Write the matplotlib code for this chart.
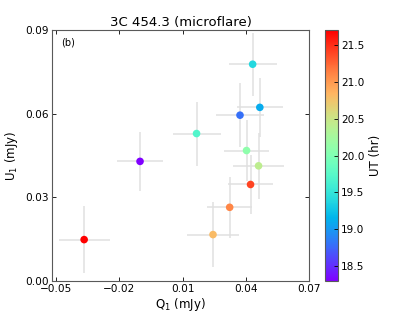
import numpy as np
import matplotlib
matplotlib.use("Agg")
from matplotlib import pyplot as plt

# Q1, U1 (mJy), errors and UT (hr)
q1 = [-0.0367, -0.0102, 0.0166, 0.0372, 0.0432, 0.0466, 0.0403, 0.0460, 0.0422, 0.0323, 0.0244]
u1 = [0.0148, 0.0429, 0.0529, 0.0595, 0.0778, 0.0623, 0.0468, 0.0413, 0.0346, 0.0264, 0.0166]
q1_err = [0.0121, 0.0107, 0.0114, 0.0114, 0.0114, 0.0109, 0.0107, 0.0120, 0.0107, 0.0107, 0.0121]
u1_err = [0.0120, 0.0107, 0.0115, 0.0115, 0.0113, 0.0107, 0.0108, 0.0118, 0.0106, 0.0110, 0.0118]
ut = [21.7, 18.3, 19.7, 18.8, 19.4, 19.1, 20.1, 20.4, 21.4, 21.1, 20.8]

xticks = [-0.05, -0.02, 0.01, 0.04, 0.07]
yticks = [0.00, 0.03, 0.06, 0.09]
cticks = [18.5, 19.0, 19.5, 20.0, 20.5, 21.0, 21.5]

plt.rcParams['font.family'] = 'DejaVu Sans'
plt.rcParams['xtick.direction'] = 'in'
plt.rcParams['ytick.direction'] = 'in'

fig = plt.figure(figsize=(4.15, 3.12), dpi=100)
ax = fig.add_axes([0.125, 0.1, 0.62, 0.803])
cax = fig.add_axes([0.783, 0.1, 0.032, 0.803])

ax.errorbar(q1, u1, xerr=q1_err, yerr=u1_err, fmt='none', ecolor='0.88', elinewidth=1.1, zorder=1)
sc = ax.scatter(q1, u1, c=ut, cmap='rainbow', vmin=18.3, vmax=21.7, s=30, edgecolors='none', zorder=2)

fmt = lambda t: ('%.2f' % t).replace('-', '\u2212')
ax.set_xlim(-0.052, 0.07)
ax.set_ylim(0.0, 0.09)
ax.set_xticks(xticks)
ax.set_yticks(yticks)
ax.set_xticklabels([fmt(t) for t in xticks], fontsize=7.6)
ax.set_yticklabels([fmt(t) for t in yticks], fontsize=7.6)
ax.tick_params(top=True, right=True, length=3, width=0.6, pad=2)
for s in ax.spines.values():
    s.set_color('0.35')
ax.set_xlabel('Q$_1$ (mJy)', fontsize=8.5, labelpad=2)
ax.set_ylabel('U$_1$ (mJy)', fontsize=8.5, labelpad=4)
ax.set_title('3C 454.3 (microflare)', fontsize=9.5, pad=3)
ax.text(0.035, 0.94, '(b)', transform=ax.transAxes, fontsize=7)

cb = fig.colorbar(sc, cax=cax, ticks=cticks)
cb.ax.tick_params(labelsize=7.6, length=3, width=0.6, direction='in', pad=2)
cb.set_label('UT (hr)', fontsize=8.5, labelpad=3)
cb.outline.set_edgecolor('0.35')

fig.savefig('out.png', dpi=100)
